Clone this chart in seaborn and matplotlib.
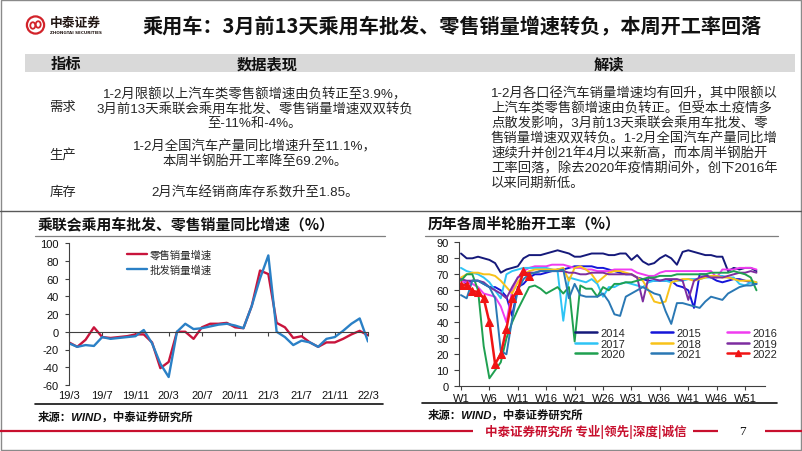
import numpy as np
import pandas as pd
import matplotlib
matplotlib.use("Agg")
import matplotlib.pyplot as plt
import seaborn as sns
from matplotlib.patches import Rectangle, Circle, Ellipse
from matplotlib.lines import Line2D

# ---------------- data ----------------
month_ticks = ['19/3', '19/7', '19/11', '20/3', '20/7', '20/11', '21/3', '21/7', '21/11', '22/3']
retail = [-12, -17, -9, 5, -6, -7, -6, -5, -3, -3, -12, -41, -34, 0, 0, -8, 5, 9, 9, 10,
          5, 4, 29, 69, 65, 10, 5, -7, -5, -12, -17, -12, -12, -8, -3, 1, -4]
wholesale = [-13, -17, -15, -16, -6, -8, -7, -6, -5, 2, -13, -36, -51, 0, 9, 3, 4, 6, 8, 9,
             7, 4, 29, 60, 86, 0, -6, -15, -10, -12, -17, -8, -6, 1, 9, 15, -11]

week_ticks = ['W1', 'W6', 'W11', 'W16', 'W21', 'W26', 'W31', 'W36', 'W41', 'W46', 'W51']
years = ['2014', '2015', '2016', '2017', '2018', '2019', '2020', '2021', '2022']
tire_2014 = [83, 80, 80, 81, 80, 79, 77, 71, 73, 74, 75, 80, 82, 82, 82, 83, 84, 85, 84, 83,
             81, 81, 82, 83, 83, 83, 82, 82, 83, 83, 79, 82, 78, 76, 77, 80, 82, 80, 76, 84,
             85, 84, 83, 82, 82, 81, 81, 72, 74, 73, 74, 74, 72]
tire_2015 = [67, 64, 66, 66, 64, 62, 62, 60, 56, 44, 62, 64, 68, 70, 70, 71, 72, 73, 73, 74,
             75, 75, 75, 75, 74, 74, 73, 72, 71, 70, 70, 68, 67, 66, 66, 66, 66, 66, 63, 62,
             60, 49, 70, 70, 68, 66, 65, 66, 67, 67, 66, 65, 64]
tire_2016 = [66, 65, 64, 62, 58, 57, 56, 50, 40, 60, 68, 72, 74, 75, 75, 75, 76, 76, 76, 75,
             74, 74, 73, 73, 72, 72, 72, 73, 73, 73, 73, 71, 70, 69, 69, 71, 72, 72, 72, 72,
             72, 72, 72, 72, 72, 68, 73, 73, 73, 74, 74, 74, 73]
tire_2017 = [74, 72, 71, 70, 68, 65, 60, 55, 70, 72, 73, 74, 74, 74, 74, 74, 73, 72, 41, 68,
             67, 66, 65, 67, 64, 56, 62, 62, 64, 65, 64, 63, 62, 65, 66, 66, 66, 65, 66, 66,
             67, 67, 67, 68, 68, 69, 69, 68, 68, 64, 63, 65, 65]
tire_2018 = [68, 70, 71, 71, 70, 70, 69, 66, 62, 58, 65, 70, 72, 73, 73, 73, 73, 73, 74, 66,
             74, 75, 73, 70, 65, 68, 71, 72, 72, 71, 70, 68, 66, 60, 53, 52, 53, 65, 66, 67,
             67, 66, 67, 68, 69, 69, 68, 68, 67, 66, 66, 66, 65]
tire_2019 = [67, 66, 66, 66, 65, 62, 60, 58, 55, 62, 68, 70, 71, 71, 72, 72, 72, 72, 72, 71,
             71, 70, 70, 71, 71, 71, 70, 70, 70, 70, 70, 68, 53, 68, 67, 66, 67, 67, 67, 66,
             54, 66, 68, 69, 68, 68, 68, 69, 70, 71, 71, 72, 71]
tire_2020 = [66, 70, 70, 60, 25, 5, 10, 15, 30, 40, 48, 55, 62, 63, 61, 58, 60, 62, 58, 62,
             28, 63, 61, 61, 56, 62, 60, 64, 64, 65, 65, 66, 67, 68, 68, 69, 69, 69, 70, 70,
             70, 70, 70, 70, 71, 71, 71, 71, 72, 71, 70, 68, 60]
tire_2021 = [57, 55, 66, 66, 64, 62, 55, 22, 20, 42, 60, 67, 70, 71, 72, 72, 72, 72, 73, 55,
             64, 57, 56, 56, 56, 58, 53, 45, 44, 56, 58, 60, 62, 60, 58, 57, 47, 39, 52, 52,
             51, 50, 49, 53, 56, 55, 54, 58, 60, 62, 63, 63, 64]
tire_2022 = [63.5, 63.5, 59.5, 59, 55, 40, 14, 20, 36, 55, 60, 72, 69.2]

colors = ['#15197A', '#1515D8', '#F03CF0', '#2EC4F5', '#F8C21A', '#7D2DA0', '#1FA050', '#2A78B4', '#F01414']

# ---------------- style ----------------
sns.set_theme(style='white')
CJK = ['Liberation Sans', 'Noto Sans CJK SC']
plt.rcParams['font.family'] = CJK
plt.rcParams['axes.unicode_minus'] = False

W, H = 802, 452
fig = plt.figure(figsize=(W / 100, H / 100), dpi=100)
fig.patch.set_facecolor('white')

bg = fig.add_axes([0, 0, 1, 1])
bg.set_xlim(0, W)
bg.set_ylim(H, 0)
bg.axis('off')
bg.patch.set_alpha(0)

TXT = '#262626'
# slide border
bg.add_patch(Rectangle((0.5, 0.5), W - 1.5, H - 1.5, fill=False, ec='#8a8a8a', lw=1.0, clip_on=False))

# logo
LR = '#D2232A'
bg.add_patch(Circle((35.5, 26), 8.6, fill=False, ec=LR, lw=1.6))
bg.add_patch(Ellipse((32.8, 26.5), 5.0, 6.5, fill=False, ec=LR, lw=1.3))
bg.add_patch(Ellipse((38.2, 25.5), 5.0, 6.5, fill=False, ec=LR, lw=1.3))
bg.text(50, 23.5, '中泰证券', ha='left', va='center', fontsize=9.2, fontweight='bold',
        color='#231815', family=['Noto Sans CJK SC'])
bg.text(50, 33.5, 'ZHONGTAI SECURITIES', ha='left', va='center', fontsize=3.0, fontweight='bold',
        color='#231815', family=['DejaVu Sans'])

# title
bg.text(143, 27, '乘用车：3月前13天乘用车批发、零售销量增速转负，本周开工率回落', ha='left', va='center',
        fontsize=14.5, fontweight='bold', color='#111111', family=['Noto Sans CJK SC'])

# table
bg.add_patch(Rectangle((25, 55), 770, 18, color='#D9D9D9', lw=0))
for x, s in [(66, '指标'), (267, '数据表现'), (609, '解读')]:
    bg.text(x, 64, s, ha='center', va='center', fontsize=11, fontweight='bold', color='#111111',
            family=['Noto Sans CJK SC'])

body = dict(fontsize=9.6, color=TXT, family=CJK)
bg.text(63, 108, '需求', ha='center', va='center', **body)
bg.text(63, 155, '生产', ha='center', va='center', **body)
bg.text(63, 193, '库存', ha='center', va='center', **body)

demand = ['1-2月限额以上汽车类零售额增速由负转正至3.9%，', '3月前13天乘联会乘用车批发、零售销量增速双双转负', '至-11%和-4%。']
for y, s in zip([95, 109.5, 124], demand):
    bg.text(255, y, s, ha='center', va='center', **body)
prod = ['1-2月全国汽车产量同比增速升至11.1%，', '本周半钢胎开工率降至69.2%。']
for y, s in zip([147, 162], prod):
    bg.text(255, y, s, ha='center', va='center', **body)
bg.text(255, 193, '2月汽车经销商库存系数升至1.85。', ha='center', va='center', **body)

interp = ['1-2月各口径汽车销量增速均有回升，其中限额以',
          '上汽车类零售额增速由负转正。但受本土疫情多',
          '点散发影响，3月前13天乘联会乘用车批发、零',
          '售销量增速双双转负。1-2月全国汽车产量同比增',
          '速续升并创21年4月以来新高，而本周半钢胎开',
          '工率回落，除去2020年疫情期间外，创下2016年',
          '以来同期新低。']
for k, s in enumerate(interp):
    bg.text(491, 94 + 15 * k, s, ha='left', va='center', **body)

# separator
bg.plot([0, W], [212, 212], color='#595959', lw=1.0)

# chart titles & rules
bg.text(38, 224, '乘联会乘用车批发、零售销量同比增速（%）', ha='left', va='center', fontsize=10.7,
        fontweight='bold', color='#111111', family=['Noto Sans CJK SC'])
bg.text(428, 224, '历年各周半轮胎开工率（%）', ha='left', va='center', fontsize=10.7,
        fontweight='bold', color='#111111', family=['Noto Sans CJK SC'])
bg.plot([35, 385], [237, 237], color='#7f7f7f', lw=0.9)
bg.plot([425, 778], [237, 237], color='#7f7f7f', lw=0.9)
bg.plot([35, 383], [405, 405], color='#111111', lw=1.2)
bg.plot([422, 777], [404, 404], color='#111111', lw=1.2)

src = dict(fontsize=8.2, style='italic', fontweight='bold', color='#111111', family=CJK, ha='left', va='center')
bg.text(38, 417, '来源：WIND，中泰证券研究所', **src)
bg.text(428, 415, '来源：WIND，中泰证券研究所', **src)

# footer
FR = '#C8102E'
bg.plot([0, 473], [431.5, 431.5], color=FR, lw=1.6, solid_capstyle='butt')
bg.plot([693, 718], [431.5, 431.5], color=FR, lw=1.6, solid_capstyle='butt')
bg.plot([765, W], [431.5, 431.5], color=FR, lw=1.6, solid_capstyle='butt')
bg.text(485, 431.5, '中泰证券研究所 专业|领先|深度|诚信', ha='left', va='center', fontsize=9,
        fontweight='bold', color=FR, family=['Noto Sans CJK SC'])
bg.text(742, 432, '7', ha='center', va='center', fontsize=9.5, color='#111111', family=['Liberation Serif'])

# ---------------- left chart ----------------
ax1 = fig.add_axes([69 / W, 1 - 386 / H, (368 - 69) / W, (386 - 244) / H])
ax1.set_facecolor('none')
RED, BLUE = '#C8143C', '#2A80C6'
idx = np.arange(len(retail))
sns.lineplot(x=idx, y=retail, ax=ax1, color=RED, lw=1.7, legend=False)
sns.lineplot(x=idx, y=wholesale, ax=ax1, color=BLUE, lw=1.7, legend=False)
ax1.set_xlim(0, len(retail) - 1)
ax1.set_ylim(-60, 100)
ax1.set_yticks(range(-60, 101, 20))
ax1.set_xticks(range(0, len(retail), 4))
ax1.set_xticklabels(month_ticks)
for s in ['top', 'right']:
    ax1.spines[s].set_visible(False)
ax1.spines['bottom'].set_position(('data', 0))
for s in ['bottom', 'left']:
    ax1.spines[s].set_color('#404040')
    ax1.spines[s].set_linewidth(0.8)
ax1.tick_params(axis='y', direction='out', length=3, width=0.8, color='#404040', pad=4.5,
                labelsize=8, labelcolor='#111111', left=True)
ax1.tick_params(axis='x', direction='out', length=3, width=0.8, color='#404040', pad=39,
                labelsize=8, labelcolor='#111111', bottom=True)
ax1.set_xlabel('')
ax1.set_ylabel('')
h_r = Line2D([], [], color=RED, lw=1.7)
h_b = Line2D([], [], color=BLUE, lw=1.7)
ax1.legend([h_r, h_b], ['零售销量增速', '批发销量增速'], loc='upper left',
           bbox_to_anchor=(127 / W, 1 - 250 / H), bbox_transform=fig.transFigure, frameon=False,
           prop={'family': CJK, 'size': 7.5}, handlelength=1.9, handletextpad=0.3,
           labelspacing=0.45, borderpad=0, borderaxespad=0)

# ---------------- right chart ----------------
ax2 = fig.add_axes([459 / W, 1 - 387.3 / H, (765 - 459) / W, (387.3 - 243.3) / H])
ax2.set_facecolor('none')
series = [tire_2014, tire_2015, tire_2016, tire_2017, tire_2018, tire_2019, tire_2020, tire_2021, tire_2022]
handles = []
for yr, vals, c in zip(years, series, colors):
    wk = np.arange(len(vals))
    if yr == '2022':
        sns.lineplot(x=wk, y=vals, ax=ax2, color=c, lw=1.8, marker='^', markersize=5.5,
                     markeredgecolor=c, legend=False)
        handles.append(Line2D([], [], color=c, lw=1.8, marker='^', markersize=5, markeredgecolor=c))
    else:
        sns.lineplot(x=wk, y=vals, ax=ax2, color=c, lw=1.4, legend=False)
        handles.append(Line2D([], [], color=c, lw=1.8))
ax2.set_xlim(-0.35, 53.5)
ax2.set_ylim(0, 90)
ax2.set_yticks(range(0, 91, 10))
ax2.set_xticks(range(0, 51, 5))
ax2.set_xticklabels(week_ticks)
for s in ['top', 'right']:
    ax2.spines[s].set_visible(False)
for s in ['bottom', 'left']:
    ax2.spines[s].set_color('#404040')
    ax2.spines[s].set_linewidth(0.8)
ax2.tick_params(axis='y', direction='out', length=3.5, width=0.8, color='#404040', pad=4,
                labelsize=8, labelcolor='#111111', left=True)
ax2.tick_params(axis='x', direction='out', length=3, width=0.8, color='#404040', pad=2,
                labelsize=8, labelcolor='#111111', bottom=True)
ax2.set_xlabel('')
ax2.set_ylabel('')
order = [0, 3, 6, 1, 4, 7, 2, 5, 8]
ax2.legend([handles[i] for i in order], [years[i] for i in order], ncol=3, loc='upper left',
           bbox_to_anchor=(575 / W, 1 - 329 / H), bbox_transform=fig.transFigure, frameon=False,
           prop={'family': CJK, 'size': 8}, handlelength=2.0, handletextpad=0.3,
           columnspacing=2.3, labelspacing=0.05, borderpad=0, borderaxespad=0)

fig.savefig('out.png', dpi=100, facecolor='white')
